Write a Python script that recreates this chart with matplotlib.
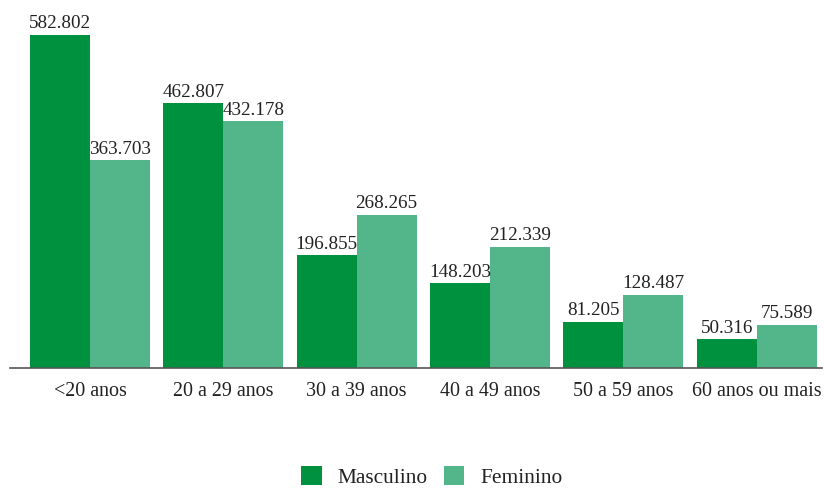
import numpy as np
import matplotlib.pyplot as plt

plt.rcParams['font.family'] = ['Liberation Serif', 'DejaVu Serif']

categorias = ['<20 anos', '20 a 29 anos', '30 a 39 anos', '40 a 49 anos', '50 a 59 anos', '60 anos ou mais']
masculino = [582.802, 462.807, 196.855, 148.203, 81.205, 50.316]
feminino = [363.703, 432.178, 268.265, 212.339, 128.487, 75.589]


def fmt(v):
    return f'{v:.3f}'


fig = plt.figure(figsize=(8.24, 4.88), dpi=100)
ax = fig.add_axes([0.0121, 0.2459, 0.9855, 0.7336])

x = np.arange(len(categorias))
width = 0.45
b1 = ax.bar(x - width / 2, masculino, width, color='#00913F', label='Masculino')
b2 = ax.bar(x + width / 2, feminino, width, color='#52B68A', label='Feminino')

for bars, vals in [(b1, masculino), (b2, feminino)]:
    for r, v in zip(bars, vals):
        ax.text(r.get_x() + r.get_width() / 2, v + 4, fmt(v), ha='center', va='bottom',
                fontsize=13.8, color='#222222')

ax.set_xlim(-0.6, 5.49)
ax.set_ylim(0, 626)
ax.set_xticks(x)
ax.set_xticklabels(categorias, fontsize=14.4, color='#222222')
ax.tick_params(axis='x', length=0, pad=10)
ax.set_yticks([])
for s in ['top', 'right', 'left']:
    ax.spines[s].set_visible(False)
ax.spines['bottom'].set_color('#555555')
ax.spines['bottom'].set_linewidth(1.2)

fig.legend(handles=[b1, b2], loc='center', bbox_to_anchor=(0.524, 0.022), ncol=2, frameon=False,
           fontsize=15.4, handlelength=0.95, handleheight=0.95, columnspacing=0.75,
           handletextpad=0.75, labelcolor='#222222', borderpad=0.2)

fig.savefig('out.png', dpi=100)
